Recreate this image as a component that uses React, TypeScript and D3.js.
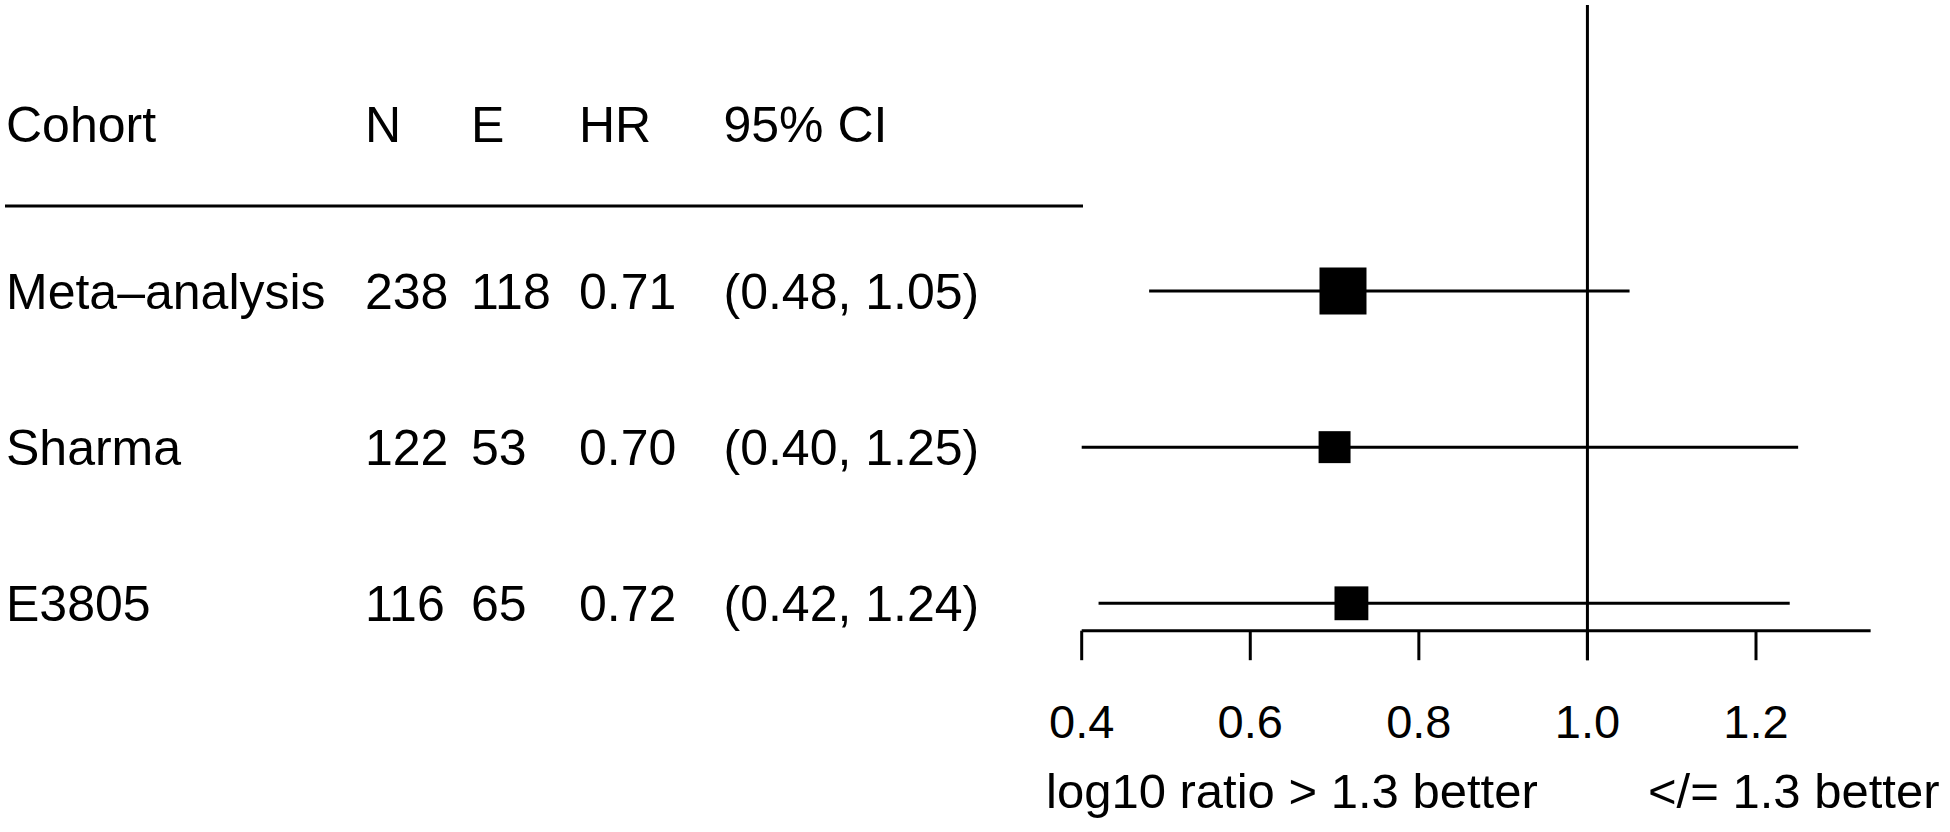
import React from "react";
import * as d3 from "d3";

// ---- data ----
const cohorts = ["Meta–analysis", "Sharma", "E3805"];
const nValues = ["238", "122", "116"];
const eValues = ["118", "53", "65"];
const hrValues = [0.71, 0.7, 0.72];
const ciLower = [0.48, 0.4, 0.42];
const ciUpper = [1.05, 1.25, 1.24];
const boxWeight = [1.0, 0.68, 0.72];
const headers = ["Cohort", "N", "E", "HR", "95% CI"];
const tickValues = [0.4, 0.6, 0.8, 1.0, 1.2];
const xLabelLeft = "log10 ratio > 1.3 better";
const xLabelRight = "</= 1.3 better";
const refValue = 1.0;
const axisDomain = [0.4, 1.336];

const W = 1950;
const H = 832;
const FONT = "'Liberation Sans', Arial, Helvetica, sans-serif";

export default function App() {
  const x = d3.scaleLinear().domain([0.4, 1.2]).range([1081.7, 1756]);
  const y = d3.scaleLinear().domain([0, cohorts.length - 1]).range([291, 603.3]);
  const box = d3.scaleLinear().domain([0, 1]).range([0, 47]);
  const headerY = 123.7;
  const axisY = 630.7;
  const tickLen = 29.5;
  const colX = [6, 365, 471, 579, 723.5];
  const fmt = d3.format(".2f");
  const ciText = (i: number) => `(${fmt(ciLower[i])}, ${fmt(ciUpper[i])})`;

  const textStyle = { fontFamily: FONT, fontSize: 50, fill: "#000" } as const;

  return (
    <svg
      width={W}
      height={H}
      viewBox={`0 0 ${W} ${H}`}
      style={{ position: "absolute", left: 0, top: 0, background: "#fff" }}
    >
      <rect x={0} y={0} width={W} height={H} fill="#fff" />
      {/* header */}
      {headers.map((h, j) => (
        <text key={h} x={colX[j]} y={headerY} dy="0.36em" style={textStyle}>
          {h}
        </text>
      ))}
      <line x1={5} x2={1083} y1={206} y2={206} stroke="#000" strokeWidth={3} />

      {/* table rows */}
      {cohorts.map((c, i) => {
        const cells = [c, nValues[i], eValues[i], fmt(hrValues[i]), ciText(i)];
        return cells.map((t, j) => (
          <text key={`${i}-${j}`} x={colX[j]} y={y(i)} dy="0.36em" style={textStyle}>
            {t}
          </text>
        ));
      })}

      {/* reference line */}
      <line
        x1={x(refValue)}
        x2={x(refValue)}
        y1={5}
        y2={axisY + tickLen}
        stroke="#000"
        strokeWidth={3}
      />

      {/* CI lines and boxes */}
      {cohorts.map((c, i) => {
        const s = box(boxWeight[i]);
        return (
          <g key={c}>
            <line
              x1={x(ciLower[i])}
              x2={x(ciUpper[i])}
              y1={y(i)}
              y2={y(i)}
              stroke="#000"
              strokeWidth={3}
            />
            <rect x={x(hrValues[i]) - s / 2} y={y(i) - s / 2} width={s} height={s} fill="#000" />
          </g>
        );
      })}

      {/* axis */}
      <line
        x1={x(axisDomain[0])}
        x2={x(axisDomain[1])}
        y1={axisY}
        y2={axisY}
        stroke="#000"
        strokeWidth={3}
      />
      {tickValues.map((t) => (
        <g key={t}>
          <line x1={x(t)} x2={x(t)} y1={axisY} y2={axisY + tickLen} stroke="#000" strokeWidth={3} />
          <text
            x={x(t)}
            y={738.3}
            textAnchor="middle"
            style={{ fontFamily: FONT, fontSize: 47, fill: "#000" }}
          >
            {d3.format(".1f")(t)}
          </text>
        </g>
      ))}

      {/* x labels */}
      <text x={1046} y={808} style={{ fontFamily: FONT, fontSize: 49, fill: "#000" }}>
        {xLabelLeft}
      </text>
      <text x={1648} y={808} style={{ fontFamily: FONT, fontSize: 49, fill: "#000" }}>
        {xLabelRight}
      </text>
    </svg>
  );
}
